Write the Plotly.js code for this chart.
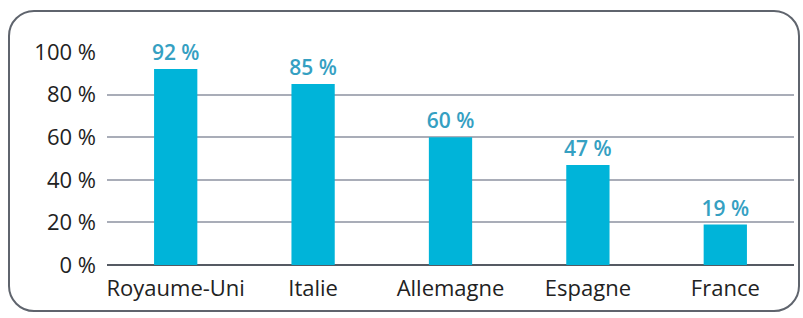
<!DOCTYPE html>
<html><head><meta charset="utf-8">
<script src="https://cdn.plot.ly/plotly-3.0.1.min.js"></script>
<style>
html,body{margin:0;padding:0;background:#fff;}
#wrap{position:relative;width:803px;height:318px;}
#chart{position:absolute;left:0;top:0;width:803px;height:318px;}
#frame{position:absolute;left:8px;top:10px;width:792px;height:302px;box-sizing:border-box;border:2px solid #5f646d;border-radius:26px;pointer-events:none;}
</style></head>
<body><div id="wrap"><div id="chart"></div><div id="frame"></div></div>
<script>
const categories = ["Royaume-Uni","Italie","Allemagne","Espagne","France"];
const values = [92,85,60,47,19];
const tickVals = [0,20,40,60,80,100];
const tickText = ["0 %","20 %","40 %","60 %","80 %","100 %"];

const trace = {
  type:'bar', x:categories, y:values,
  marker:{color:'#00b4d9'},
  text: values.map(v=>v+' %'),
  textposition:'outside',
  constraintext:'none',
  textfont:{family:'Open Sans, sans-serif', size:21, color:'#35a0c2', weight:600},
  cliponaxis:false,
  hoverinfo:'none'
};
const layout = {
  width:803, height:318,
  margin:{l:107,r:9,t:52,b:53},
  paper_bgcolor:'rgba(0,0,0,0)', plot_bgcolor:'rgba(0,0,0,0)',
  bargap:0.685,
  showlegend:false,
  font:{family:'Open Sans, sans-serif', size:22, color:'#222'},
  xaxis:{showgrid:false, showline:false, zeroline:false, ticks:'', tickfont:{size:22,color:'#222'}, ticklabelstandoff:8},
  yaxis:{range:[0,100], tickvals:tickVals, ticktext:tickText, showgrid:true, gridcolor:'#a9adb8', gridwidth:2,
         zeroline:true, zerolinecolor:'#555a63', zerolinewidth:2, showline:false, ticks:'', ticklabelstandoff:10,
         tickfont:{size:22,color:'#222'}}
};
Plotly.newPlot('chart',[trace],layout,{displayModeBar:false,staticPlot:true});
</script></body></html>
